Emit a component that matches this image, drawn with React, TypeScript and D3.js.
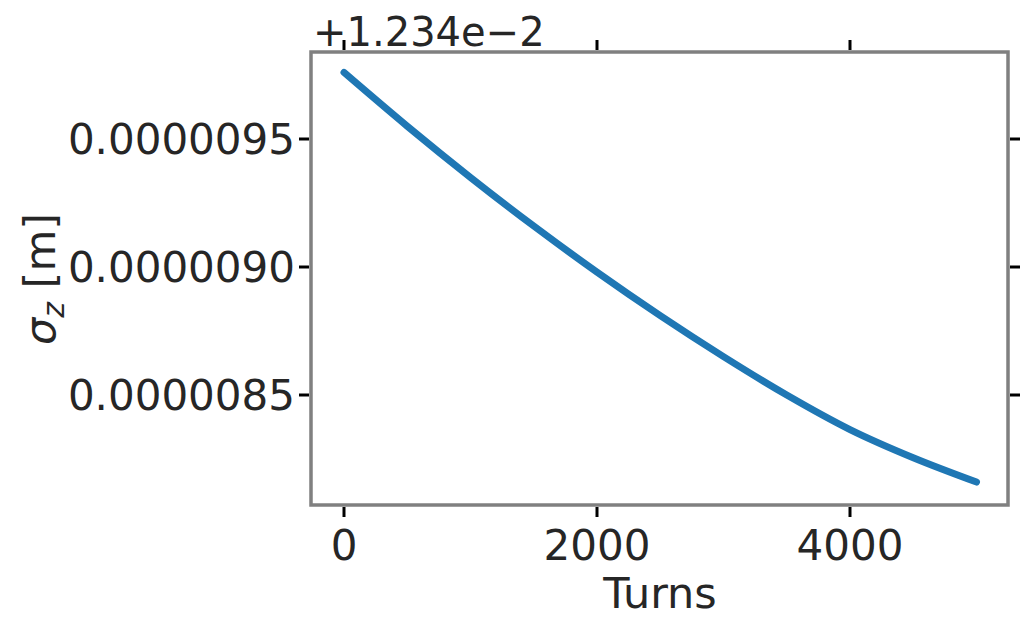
import React from "react";
import * as d3 from "d3";

const turns = [0, 500, 1000, 1500, 2000, 2500, 3000, 3500, 4000, 4500, 5000];
const sigmaOffsetE6 = [9.76, 9.55, 9.35, 9.16, 8.98, 8.81, 8.65, 8.5, 8.365, 8.255, 8.16];
const xTicks = [0, 2000, 4000];
const yTicks = [8.5, 9.0, 9.5];
const yTickLabels = ["0.0000085", "0.0000090", "0.0000095"];

export default function App() {
  const L = 311, R = 1008, T = 52, B = 505;
  const x = d3.scaleLinear().domain([0, 2000]).range([344, 597]);
  const y = d3.scaleLinear().domain([9.0, 9.5]).range([267, 139]);
  const line = d3.line<number>().x((_, i) => x(turns[i])).y((d) => y(d)).curve(d3.curveCatmullRom);
  const font = "DejaVu Sans, sans-serif";
  const c = "#262626";
  return (
    <svg width={1036} height={631} style={{ position: "absolute", left: 0, top: 0 }}>
      <rect width={1036} height={631} fill="white" />
      <path d={line(sigmaOffsetE6)!} fill="none" stroke="#1f77b4" strokeWidth={7} strokeLinecap="round" />
      <rect x={L} y={T} width={R - L} height={B - T} fill="none" stroke="#808080" strokeWidth={3.5} />
      {xTicks.map((t) => (
        <g key={t}>
          <line x1={x(t)} x2={x(t)} y1={B + 2} y2={B + 12} stroke="black" strokeWidth={3} />
          <line x1={x(t)} x2={x(t)} y1={T - 2} y2={T - 12} stroke="black" strokeWidth={3} />
          <text x={x(t)} y={B + 55} textAnchor="middle" fontFamily={font} fontSize={42} fill={c}>{t}</text>
        </g>
      ))}
      {yTicks.map((t, i) => (
        <g key={t}>
          <line x1={L - 2} x2={L - 12} y1={y(t)} y2={y(t)} stroke="black" strokeWidth={3} />
          <line x1={R + 2} x2={R + 12} y1={y(t)} y2={y(t)} stroke="black" strokeWidth={3} />
          <text x={L - 16} y={y(t) + 15} textAnchor="end" fontFamily={font} fontSize={42} fill={c}>{yTickLabels[i]}</text>
        </g>
      ))}
      <text x={313} y={46} fontFamily={font} fontSize={40} fill={c}>+1.234e−2</text>
      <text x={660} y={608} textAnchor="middle" fontFamily={font} fontSize={43} fill={c}>Turns</text>
      <text transform="translate(55,279) rotate(-90)" textAnchor="middle" fontFamily={font} fontSize={43} fill={c}>
        <tspan fontStyle="italic">σ</tspan>
        <tspan fontStyle="italic" fontSize={30} dy={9}>z</tspan>
        <tspan dy={-9}> [m]</tspan>
      </text>
    </svg>
  );
}
